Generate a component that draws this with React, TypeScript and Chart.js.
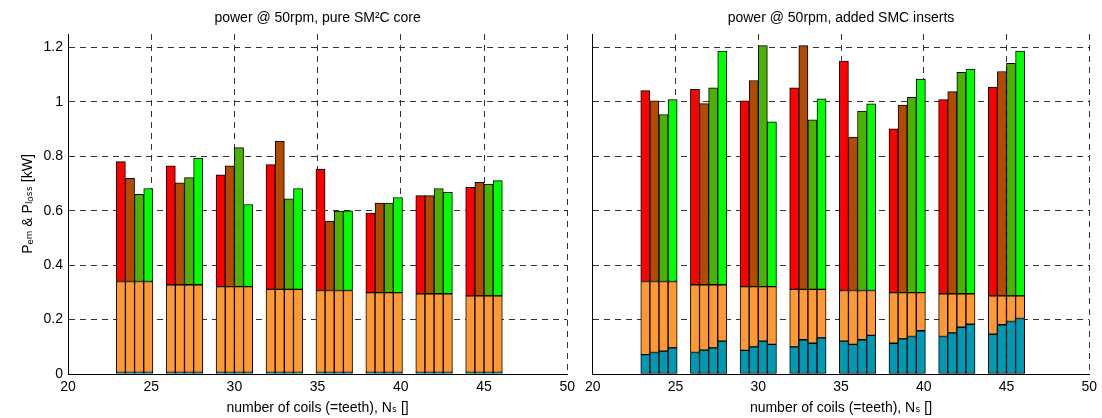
import React, { useEffect, useRef } from 'react';
import { Chart, registerables } from 'chart.js';

Chart.register(...registerables);

// ---------- data ----------
const groupCoils = [24, 27, 30, 33, 36, 39, 42, 45];
const barOffsets = [-0.825, -0.275, 0.275, 0.825];

// level of the orange (core loss) band per group, kW
const coreLossLevel = [0.340, 0.328, 0.321, 0.311, 0.307, 0.299, 0.295, 0.287];

// pure SM2C core: bottom (teal) loss per bar and total height per bar
const pureBase = [
  0.006, 0.006, 0.006, 0.006,
  0.006, 0.006, 0.006, 0.006,
  0.006, 0.006, 0.006, 0.006,
  0.006, 0.006, 0.006, 0.006,
  0.006, 0.006, 0.006, 0.006,
  0.006, 0.006, 0.006, 0.006,
  0.006, 0.006, 0.006, 0.006,
  0.006, 0.006, 0.006, 0.006,
];
const pureTotal = [
  0.781, 0.719, 0.661, 0.682,
  0.765, 0.703, 0.722, 0.794,
  0.732, 0.765, 0.832, 0.623,
  0.770, 0.855, 0.644, 0.682,
  0.753, 0.562, 0.599, 0.600,
  0.592, 0.628, 0.628, 0.649,
  0.656, 0.656, 0.682, 0.668,
  0.686, 0.705, 0.698, 0.711,
];

// added SMC inserts
const smcBase = [
  0.071, 0.079, 0.084, 0.096,
  0.079, 0.088, 0.096, 0.121,
  0.087, 0.100, 0.121, 0.109,
  0.100, 0.126, 0.113, 0.133,
  0.121, 0.109, 0.126, 0.142,
  0.113, 0.129, 0.138, 0.159,
  0.138, 0.151, 0.172, 0.183,
  0.146, 0.181, 0.193, 0.204,
];
const smcTotal = [
  1.042, 1.004, 0.954, 1.009,
  1.047, 0.994, 1.052, 1.187,
  1.004, 1.079, 1.207, 0.927,
  1.052, 1.207, 0.934, 1.012,
  1.150, 0.871, 0.967, 0.993,
  0.901, 0.989, 1.017, 1.084,
  1.009, 1.038, 1.109, 1.121,
  1.055, 1.112, 1.142, 1.187,
];

const titleLeft = 'power @ 50rpm, pure SM\u00B2C core';
const titleRight = 'power @ 50rpm, added SMC inserts';
const xTitle = 'number of coils (=teeth), N\u209B []';
const yTitle = 'P\u2091\u2098 & P\u2097\u2092\u209B\u209B [kW]';

// ---------- styling ----------
const FONT = "'Liberation Sans', Arial, Helvetica, 'DejaVu Sans', sans-serif";
const topColors = ['#ff0000', '#b34a00', '#4ab300', '#00ff00'];
const orangeColor = '#ff9933';
const tealColor = '#0099b3';

function buildDatasets(base: number[], total: number[]) {
  const baseSeg: any[] = [];
  const midSeg: any[] = [];
  const topSeg: any[] = [];
  const colors: string[] = [];
  groupCoils.forEach((n, g) => {
    barOffsets.forEach((o, k) => {
      const i = g * 4 + k;
      const x = n + o;
      baseSeg.push({ x, y: base[i] });
      midSeg.push({ x, y: coreLossLevel[g] - base[i] });
      topSeg.push({ x, y: total[i] - coreLossLevel[g] });
      colors.push(topColors[k]);
    });
  });
  const common = {
    borderColor: '#000',
    borderWidth: 1,
    borderSkipped: false as const,
    categoryPercentage: 1,
    barPercentage: 1,
    stack: 's',
  };
  return [
    { label: 'base', data: baseSeg, backgroundColor: tealColor, ...common },
    { label: 'core', data: midSeg, backgroundColor: orangeColor, ...common },
    { label: 'top', data: topSeg, backgroundColor: colors, ...common },
  ];
}

function makeOptions(title: string, showY: boolean, padRight: number, yWidth: number) {
  const font = { family: FONT, size: 14, weight: 'normal' as const };
  return {
    animation: false as const,
    responsive: false,
    layout: { padding: { left: 0, right: padRight, top: 0, bottom: 0 } },
    plugins: {
      legend: { display: false },
      tooltip: { enabled: false },
      title: {
        display: true,
        text: title,
        fullSize: false,
        color: '#000',
        font,
        padding: { top: 10.2, bottom: 7.0 },
      },
    },
    scales: {
      x: {
        type: 'linear' as const,
        min: 20,
        max: 50,
        stacked: true,
        offset: false,
        ticks: { stepSize: 5, color: '#000', font, padding: 5, maxRotation: 0, autoSkip: false },
        grid: { color: '#333', lineWidth: 1, drawTicks: false, offset: false },
        border: { display: true, color: '#000', width: 1, dash: [6, 5] },
        title: { display: true, text: xTitle, color: '#000', font, padding: { top: 0, bottom: 1 } },
        afterFit: (s: any) => { s.height = 44; },
      },
      y: {
        type: 'linear' as const,
        min: 0,
        max: 1.25,
        stacked: true,
        ticks: {
          display: showY,
          stepSize: 0.2,
          includeBounds: false,
          color: '#000',
          font,
          padding: 5,
          callback: (v: any) => Number(Number(v).toFixed(1)).toString(),
        },
        grid: { color: '#333', lineWidth: 1, drawTicks: false },
        border: { display: true, color: '#000', width: 1, dash: [6, 5] },
        title: { display: showY, text: yTitle, color: '#000', font, padding: { top: 19.6, bottom: 0 } },
        afterFit: (s: any) => { s.width = yWidth; },
      },
    },
  };
}

function Panel(props: { left: number; width: number; title: string; base: number[]; total: number[]; showY: boolean; padRight: number; yWidth: number }) {
  const ref = useRef<HTMLCanvasElement | null>(null);
  useEffect(() => {
    if (!ref.current) return;
    const chart = new Chart(ref.current, {
      type: 'bar',
      data: { datasets: buildDatasets(props.base, props.total) as any },
      options: makeOptions(props.title, props.showY, props.padRight, props.yWidth) as any,
    });
    return () => chart.destroy();
  }, []);
  return (
    <canvas
      ref={ref}
      width={props.width}
      height={418}
      style={{ position: 'absolute', left: props.left, top: 0, width: props.width, height: 418 }}
    />
  );
}

export default function App() {
  return (
    <div style={{ position: 'fixed', left: 0, top: 0, width: 1102, height: 418, background: '#fff', overflow: 'hidden' }}>
      <Panel left={0} width={580} title={titleLeft} base={pureBase} total={pureTotal} showY={true} padRight={12.3} yWidth={68} />
      <Panel left={580} width={522} title={titleRight} base={smcBase} total={smcTotal} showY={false} padRight={12.7} yWidth={9.7} />
    </div>
  );
}
